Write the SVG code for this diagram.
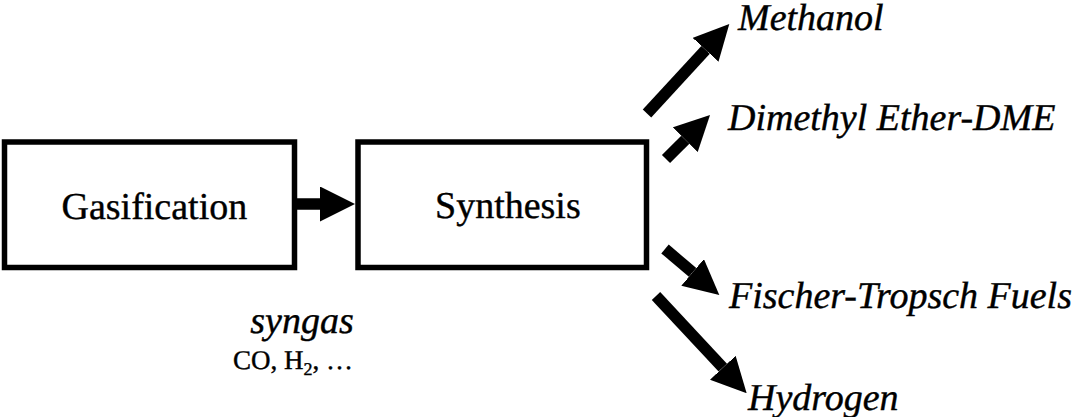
<svg xmlns="http://www.w3.org/2000/svg" width="1083" height="417" viewBox="0 0 1083 417">
  <style>
    .box { fill: #fff; stroke: #000; stroke-width: 5.5; }
    .lbl { font-family: "Liberation Serif", "Times New Roman", serif; font-size: 38px; fill: #000; stroke: #000; stroke-width: 0.4; text-rendering: geometricPrecision; }
    .it { font-style: italic; }
    .conn { stroke: #000; stroke-width: 11.5; fill: none; marker-end: url(#ah); }
  </style>
  <defs>
    <marker id="ah" markerUnits="userSpaceOnUse" viewBox="0 0 35 35" markerWidth="35" markerHeight="35" refX="0" refY="17.5" orient="auto">
      <path d="M0,0 L35,17.5 L0,35 Z" fill="#000"/>
    </marker>
  </defs>
  <rect width="1083" height="417" fill="#fff"/>

  <g id="gasification">
    <rect class="box" x="4.5" y="142" width="290" height="125.5"/>
    <text class="lbl" x="61.5" y="219">Gasification</text>
  </g>
  <g id="synthesis">
    <rect class="box" x="358" y="142" width="288.5" height="125.5"/>
    <text class="lbl" x="435" y="218">Synthesis</text>
  </g>
  <g id="methanol">
    <text class="lbl it" x="738" y="30">Methanol</text>
  </g>
  <g id="dme">
    <text class="lbl it" x="728" y="130">Dimethyl Ether-DME</text>
  </g>
  <g id="ft-fuels">
    <text class="lbl it" x="729" y="308">Fischer-Tropsch Fuels</text>
  </g>
  <g id="hydrogen">
    <text class="lbl it" x="748" y="410">Hydrogen</text>
  </g>
  <g id="syngas-label">
    <text class="lbl it" x="302" y="333" text-anchor="middle">syngas</text>
    <text class="lbl" x="233" y="369" style="font-size:27px">CO, H<tspan dy="6" style="font-size:18px">2</tspan><tspan dy="-6">, …</tspan></text>
  </g>

  <g id="connectors">
    <line class="conn" x1="297" y1="204" x2="320" y2="204"/>
    <line class="conn" x1="647" y1="113.5" x2="705.6" y2="49.8"/>
    <line class="conn" x1="666" y1="159" x2="685.3" y2="139.7"/>
    <line class="conn" x1="665" y1="249" x2="692.6" y2="272.4"/>
    <line class="conn" x1="656" y1="296" x2="722.8" y2="367.7"/>
  </g>
</svg>
